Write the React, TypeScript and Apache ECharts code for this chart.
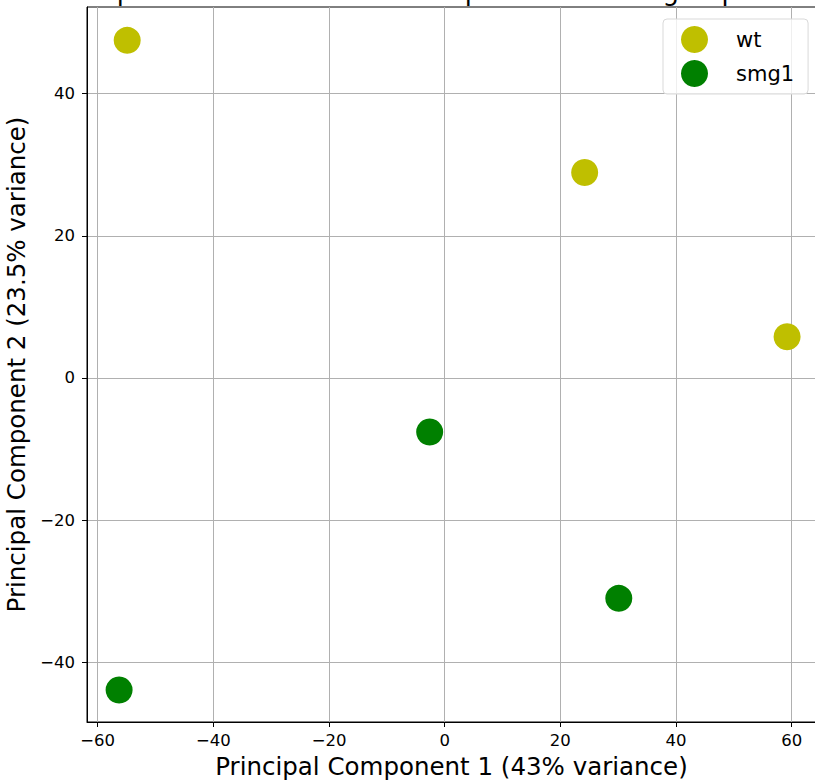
import React, { useEffect, useRef } from "react";
import * as echarts from "echarts";

const seriesNames = ["wt", "smg1"];
const seriesColors = ["#bfbf00", "#008000"];
const wtPoints: [number, number][] = [
  [-54.9, 47.5],
  [24.2, 28.9],
  [59.2, 5.8],
];
const smg1Points: [number, number][] = [
  [-2.6, -7.6],
  [30.1, -31.0],
  [-56.3, -43.9],
];
const xTicks = [-60, -40, -20, 0, 20, 40, 60];
const yTicks = [-40, -20, 0, 20, 40];
const xName = "Principal Component 1 (43% variance)";
const yName = "Principal Component 2 (23.5% variance)";
const titleText = "Expression data and the components of the groups";

const FONT = "DejaVu Sans";
const fmt = (v: number) => (v < 0 ? "\u2212" + Math.abs(v) : String(v));

export default function App() {
  const ref = useRef<HTMLDivElement>(null);
  useEffect(() => {
    document.body.style.margin = "0";
    document.body.style.overflow = "hidden";
    if (!ref.current) return;
    const chart = echarts.init(ref.current, undefined, { renderer: "svg" });
    const axisCommon = {
      type: "value" as const,
      axisLine: { show: true, onZero: false, lineStyle: { color: "#000", width: 1 } },
      axisTick: { show: true, inside: false, length: 5, lineStyle: { color: "#000", width: 1 } },
      splitLine: { show: true, lineStyle: { color: "#b0b0b0", width: 1 } },
      nameLocation: "middle" as const,
      nameTextStyle: { fontFamily: FONT, fontSize: 24.5, color: "#000" },
    };
    chart.setOption({
      animation: false,
      backgroundColor: "#fff",
      graphic: [
        {
          type: "text",
          x: 85,
          y: 4,
          style: {
            text: titleText,
            fontFamily: FONT,
            fontSize: 26,
            fill: "#000",
            align: "left",
            verticalAlign: "bottom",
          },
        },
      ],
      grid: {
        left: 87,
        right: -1,
        top: 7,
        bottom: 59,
        show: true,
        borderColor: "#000",
        borderWidth: 1,
        backgroundColor: "transparent",
        containLabel: false,
        outerBoundsMode: "none",
      },
      legend: {
        orient: "vertical",
        left: 663,
        top: 19,
        padding: [7, 14, 7, 18],
        itemWidth: 27,
        itemHeight: 27,
        itemGap: 7,
        icon: "circle",
        backgroundColor: "rgba(255,255,255,0.8)",
        borderColor: "#d9d9d9",
        borderWidth: 1,
        borderRadius: 4,
        textStyle: { fontFamily: FONT, fontSize: 21, color: "#000", padding: [0, 0, 0, 23] },
        data: seriesNames,
      },
      xAxis: {
        ...axisCommon,
        min: -61.85,
        max: 64.2,
        splitNumber: 6,
        name: xName,
        nameGap: 32,
        axisTick: { ...axisCommon.axisTick, customValues: xTicks },
        axisLabel: {
          customValues: xTicks,
          formatter: fmt,
          fontFamily: FONT,
          fontSize: 16.5,
          color: "#000",
          margin: 10,
        },
      },
      yAxis: {
        ...axisCommon,
        min: -48.4,
        max: 52.19,
        splitNumber: 5,
        name: yName,
        nameGap: 53,
        axisTick: { ...axisCommon.axisTick, customValues: yTicks },
        axisLabel: {
          customValues: yTicks,
          formatter: fmt,
          fontFamily: FONT,
          fontSize: 16.5,
          color: "#000",
          margin: 12,
        },
      },
      series: [
        {
          name: seriesNames[0],
          type: "scatter",
          data: wtPoints,
          symbol: "circle",
          symbolSize: 27,
          itemStyle: { color: seriesColors[0], opacity: 1 },
        },
        {
          name: seriesNames[1],
          type: "scatter",
          data: smg1Points,
          symbol: "circle",
          symbolSize: 27,
          itemStyle: { color: seriesColors[1], opacity: 1 },
        },
      ],
    });
    return () => chart.dispose();
  }, []);
  return <div ref={ref} style={{ width: 815, height: 781 }} />;
}
